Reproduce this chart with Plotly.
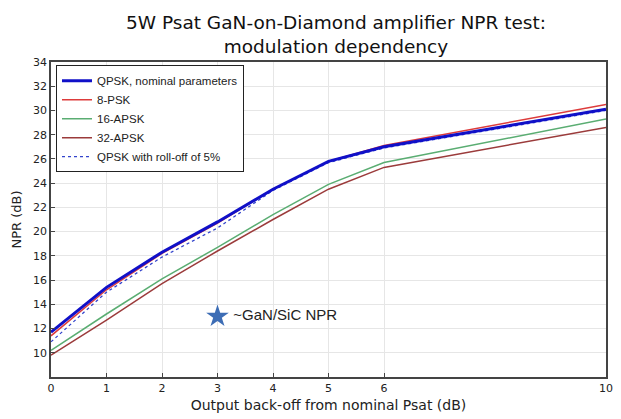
import plotly.graph_objects as go

backoff = [0, 1, 2, 3, 4, 5, 6, 10]
qpsk_nominal = [11.7, 15.4, 18.3, 20.8, 23.5, 25.8, 27.0, 30.1]
psk8 = [11.4, 15.2, 18.2, 20.7, 23.5, 25.8, 27.1, 30.5]
apsk16 = [10.2, 13.2, 16.1, 18.7, 21.4, 23.9, 25.7, 29.3]
apsk32 = [9.8, 12.7, 15.7, 18.4, 21.0, 23.5, 25.3, 28.6]
qpsk_rolloff = [10.9, 15.0, 17.9, 20.3, 23.4, 25.7, 26.9, 30.0]

star_x = [3]
star_y = [13]
star_label = "~GaN/SiC NPR"

x_ticks = [0, 1, 2, 3, 4, 5, 6, 10]
y_ticks = [10, 12, 14, 16, 18, 20, 22, 24, 26, 28, 30, 32, 34]

fig = go.Figure()
fig.add_trace(go.Scatter(x=backoff, y=apsk32, mode="lines", name="32-APSK",
                         line=dict(color="#9b3b3b", width=1.5)))
fig.add_trace(go.Scatter(x=backoff, y=apsk16, mode="lines", name="16-APSK",
                         line=dict(color="#5aad72", width=1.5)))
fig.add_trace(go.Scatter(x=backoff, y=qpsk_rolloff, mode="lines", name="QPSK with roll-off of 5%",
                         line=dict(color="#3344cc", width=1.3, dash="dot")))
fig.add_trace(go.Scatter(x=backoff, y=psk8, mode="lines", name="8-PSK",
                         line=dict(color="#dd3b3b", width=1.5)))
fig.add_trace(go.Scatter(x=backoff, y=qpsk_nominal, mode="lines", name="QPSK, nominal parameters",
                         line=dict(color="#1010c8", width=3)))
fig.add_trace(go.Scatter(x=star_x, y=star_y, mode="markers+text", showlegend=False,
                         marker=dict(symbol="star", size=17, color="#3d6db5"),
                         text=[" " + star_label], textposition="middle right",
                         textfont=dict(size=15, color="#222222", family="Liberation Sans Narrow, Liberation Sans, Arial")))

legend_order = ["QPSK, nominal parameters", "8-PSK", "16-APSK", "32-APSK", "QPSK with roll-off of 5%"]
rank = {n: i for i, n in enumerate(legend_order)}
for tr in fig.data:
    if tr.name in rank:
        tr.legendrank = rank[tr.name] + 1

fig.update_layout(
    width=613, height=411,
    margin=dict(l=43, r=8, t=54, b=37),
    paper_bgcolor="white", plot_bgcolor="white",
    font=dict(family="DejaVu Sans, Arial", color="#222222"),
    title=dict(text="5W Psat GaN-on-Diamond amplifier NPR test:<br>modulation dependency",
               x=0.535, xanchor="center", y=0.948, yanchor="top",
               font=dict(size=18.5, color="#111111")),
    legend=dict(x=0.009, y=0.99, xanchor="left", yanchor="top",
                bgcolor="white", bordercolor="#222222", borderwidth=1,
                font=dict(size=11.5, family="Liberation Sans, Arial"),
                tracegroupgap=0, itemwidth=30),
    xaxis=dict(range=[0, 10], tickvals=x_ticks, showgrid=True, gridcolor="#e6e6e6",
               showline=True, linecolor="#444444", linewidth=1.5, mirror=True,
               ticks="inside", ticklen=4, tickcolor="#444444", zeroline=False,
               tickfont=dict(size=11),
               title=dict(text="Output back-off from nominal Psat (dB)", font=dict(size=14), standoff=6)),
    yaxis=dict(range=[8, 34], tickvals=y_ticks, showgrid=True, gridcolor="#e6e6e6",
               showline=True, linecolor="#444444", linewidth=1.5, mirror=True,
               ticks="inside", ticklen=4, tickcolor="#444444", zeroline=False,
               tickfont=dict(size=11),
               title=dict(text="NPR (dB)", font=dict(size=13), standoff=8)),
)

fig.write_html("out.html")
